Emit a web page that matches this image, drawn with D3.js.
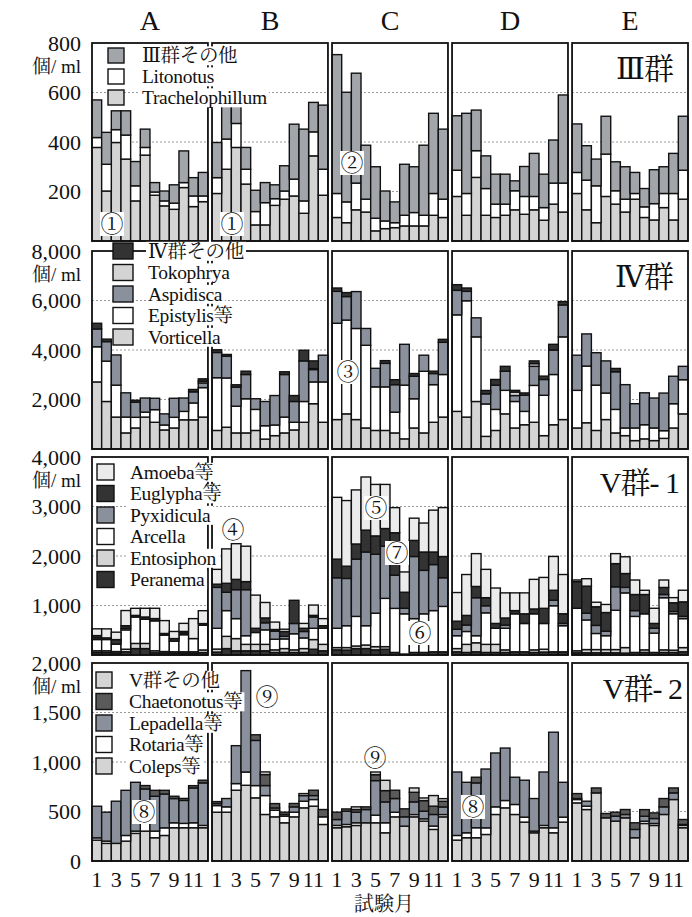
<!DOCTYPE html>
<html>
<head>
<meta charset="utf-8">
<script src="https://cdn.jsdelivr.net/npm/d3@7"></script>
<style>
  body { margin: 0; background: #fff; }
  svg { display: block; }
  text { font-family: "Liberation Serif", "DejaVu Serif", serif, "Noto Serif CJK JP", "Noto Sans CJK JP"; fill: #111; }
</style>
</head>
<body>
<script>
const sites = ['A', 'B', 'C', 'D', 'E'];
const months = d3.range(1, 13);
const monthTicks = [1, 3, 5, 7, 9, 11];

// III群 (個/ml), one row of 12 months per site A..E
const trachelophillum = [
  [378, 202, 398, 331, 162, 347, 185, 142, 128, 216, 139, 159],
  [192, 290, 378, 230, 65, 65, 144, 169, 182, 112, 344, 185],
  [95, 74, 126, 117, 41, 50, 54, 61, 61, 61, 104, 95],
  [180, 104, 257, 104, 95, 104, 126, 108, 126, 84, 149, 117],
  [192, 126, 74, 180, 149, 117, 169, 95, 85, 135, 85, 169]
];
const litonotus = [
  [40, 108, 52, 97, 61, 31, 13, 20, 25, 20, 43, 23],
  [64, 122, 97, 60, 54, 90, 27, 33, 68, 50, 97, 105],
  [97, 84, 108, 52, 51, 31, 20, 43, 54, 43, 88, 74],
  [106, 88, 108, 108, 54, 45, 77, 72, 54, 51, 85, 117],
  [85, 120, 149, 171, 54, 52, 23, 43, 66, 57, 107, 117]
];
const other3 = [
  [152, 129, 76, 98, 98, 74, 38, 40, 74, 128, 74, 95],
  [142, 148, 70, 88, 86, 81, 56, 102, 222, 290, 119, 259],
  [561, 443, 444, 218, 208, 121, 84, 206, 185, 283, 324, 283],
  [220, 324, 164, 132, 121, 121, 40, 121, 174, 135, 174, 356],
  [196, 139, 108, 153, 117, 131, 85, 74, 137, 108, 162, 218]
];

// IV群
const vorticella = [
  [2710, 1920, 1290, 650, 850, 1290, 1080, 770, 850, 1180, 1180, 1290],
  [750, 880, 650, 650, 750, 400, 540, 650, 770, 1080, 1830, 1080],
  [1190, 1420, 1190, 850, 750, 750, 650, 410, 850, 650, 1080, 1290],
  [1520, 1290, 1920, 510, 750, 1420, 850, 980, 1080, 540, 980, 1190],
  [850, 1060, 750, 1190, 650, 540, 340, 410, 340, 430, 850, 1420]
];
const epistylis = [
  [1420, 1630, 1290, 640, 430, 200, 510, 200, 430, 340, 680, 1190],
  [2130, 1990, 1080, 1380, 850, 540, 430, 640, 310, 840, 880, 1630],
  [3890, 3790, 3680, 3340, 1760, 1760, 840, 2170, 1180, 2490, 1520, 1720],
  [3900, 4700, 2610, 1310, 850, 950, 1070, 540, 1490, 1630, 2030, 3340],
  [1520, 2290, 1830, 1070, 950, 310, 510, 570, 510, 310, 980, 1380]
];
const aspidisca = [
  [720, 790, 1220, 980, 610, 570, 460, 450, 770, 540, 450, 190],
  [1020, 880, 770, 980, 430, 980, 1190, 1720, 840, 1640, 500, 1080],
  [1290, 950, 1490, 680, 750, 950, 1110, 1650, 910, 650, 450, 1300],
  [990, 380, 770, 410, 980, 770, 240, 650, 770, 640, 990, 1290],
  [1420, 1300, 1310, 1300, 1520, 1750, 980, 1290, 1210, 1520, 1110, 540]
];
const tokophrya = [
  [0, 0, 0, 0, 0, 0, 0, 0, 0, 0, 0, 70],
  [0, 0, 0, 0, 0, 0, 0, 0, 0, 0, 40, 0],
  [0, 0, 0, 0, 0, 0, 0, 0, 0, 0, 0, 0],
  [0, 0, 0, 0, 0, 0, 140, 0, 110, 0, 0, 0],
  [0, 0, 0, 0, 0, 0, 0, 0, 0, 0, 0, 0]
];
const other4 = [
  [230, 100, 0, 0, 80, 0, 0, 0, 0, 0, 95, 95],
  [110, 70, 95, 135, 0, 0, 0, 110, 240, 430, 310, 0],
  [135, 160, 0, 0, 0, 110, 200, 0, 110, 0, 95, 120],
  [230, 135, 0, 135, 230, 200, 70, 95, 110, 135, 230, 135],
  [0, 0, 0, 0, 135, 0, 0, 0, 0, 0, 0, 0]
];

// V群-1
const peranema = [
  [50, 50, 40, 65, 130, 130, 45, 40, 35, 35, 35, 50],
  [60, 130, 85, 85, 85, 85, 52, 52, 52, 52, 117, 85],
  [104, 100, 130, 130, 104, 117, 52, 20, 52, 52, 65, 65],
  [65, 52, 65, 52, 52, 52, 65, 65, 52, 60, 65, 65],
  [45, 45, 45, 45, 45, 39, 52, 52, 52, 52, 52, 65]
];
const entosiphon = [
  [35, 35, 30, 52, 104, 104, 40, 30, 30, 30, 30, 52],
  [60, 247, 247, 130, 130, 130, 52, 78, 52, 78, 195, 130],
  [46, 50, 52, 72, 65, 52, 0, 0, 0, 0, 0, 0],
  [65, 163, 182, 163, 163, 52, 0, 0, 52, 57, 0, 0],
  [40, 65, 65, 65, 65, 111, 0, 52, 0, 52, 46, 85]
];
const arcella = [
  [228, 228, 150, 390, 533, 488, 605, 332, 215, 345, 267, 500],
  [420, 520, 403, 175, 240, 293, 215, 195, 325, 215, 228, 325],
  [390, 442, 598, 390, 676, 975, 890, 812, 683, 780, 832, 917],
  [260, 260, 143, 637, 325, 436, 767, 572, 728, 520, 930, 527],
  [858, 598, 325, 280, 793, 1105, 728, 728, 390, 1053, 735, 585]
];
const pyxidicula = [
  [33, 0, 0, 33, 0, 0, 0, 0, 0, 33, 0, 0],
  [826, 370, 585, 930, 0, 143, 163, 52, 208, 130, 228, 0],
  [1020, 955, 1157, 1489, 1190, 1053, 670, 111, 1255, 878, 930, 579],
  [130, 130, 767, 143, 0, 65, 0, 0, 0, 0, 111, 46],
  [0, 137, 163, 91, 475, 111, 117, 0, 98, 65, 46, 46]
];
const euglypha = [
  [46, 33, 91, 52, 33, 46, 46, 33, 52, 33, 0, 33],
  [65, 182, 208, 163, 85, 98, 33, 98, 468, 65, 33, 52],
  [377, 247, 306, 442, 371, 358, 858, 325, 325, 371, 254, 429],
  [163, 195, 228, 163, 98, 143, 65, 195, 98, 306, 202, 195],
  [540, 546, 377, 377, 468, 280, 325, 390, 98, 143, 176, 293]
];
const amoeba = [
  [137, 182, 150, 306, 143, 176, 208, 260, 143, 163, 403, 260],
  [299, 695, 721, 715, 670, 312, 150, 46, 0, 98, 208, 143],
  [1248, 1326, 1092, 1073, 1040, 891, 507, 410, 449, 585, 845, 988],
  [579, 826, 663, 572, 715, 507, 358, 423, 598, 624, 683, 793],
  [33, 150, 91, 163, 202, 338, 293, 85, 306, 150, 104, 234]
];

// V群-2
const coleps = [
  [211, 178, 178, 201, 279, 302, 235, 258, 336, 336, 336, 336],
  [493, 493, 715, 765, 638, 470, 446, 386, 446, 537, 554, 369],
  [336, 346, 359, 386, 386, 285, 446, 352, 446, 403, 319, 446],
  [211, 235, 235, 268, 470, 537, 470, 393, 285, 336, 285, 393],
  [587, 520, 688, 436, 403, 436, 235, 379, 359, 470, 621, 336]
];
const rotaria = [
  [23, 23, 0, 57, 23, 84, 67, 77, 50, 44, 50, 23],
  [67, 54, 67, 134, 124, 191, 67, 67, 47, 67, 67, 77],
  [23, 23, 27, 0, 77, 101, 47, 0, 23, 23, 34, 23],
  [47, 50, 101, 67, 77, 74, 101, 50, 17, 23, 50, 50],
  [34, 34, 0, 0, 0, 0, 0, 23, 20, 0, 0, 23]
];
const lepadella = [
  [319, 292, 426, 456, 493, 342, 352, 342, 245, 232, 352, 430],
  [20, 84, 383, 1024, 456, 101, 23, 17, 54, 57, 40, 0],
  [60, 134, 107, 134, 349, 211, 138, 94, 128, 77, 117, 77],
  [641, 510, 453, 594, 544, 530, 275, 373, 329, 540, 966, 352],
  [10, 50, 0, 0, 50, 34, 84, 50, 50, 77, 67, 10]
];
const chaetonotus = [
  [0, 0, 0, 0, 0, 34, 60, 37, 23, 20, 23, 27],
  [20, 0, 0, 0, 57, 111, 44, 23, 34, 0, 54, 74],
  [74, 23, 27, 27, 60, 114, 84, 81, 97, 107, 84, 57],
  [0, 0, 57, 0, 0, 0, 0, 0, 0, 0, 0, 0],
  [50, 0, 50, 44, 40, 50, 67, 67, 57, 84, 50, 50]
];
const other5 = [
  [0, 0, 0, 0, 0, 0, 0, 0, 0, 0, 0, 0],
  [0, 0, 0, 0, 0, 27, 0, 0, 0, 20, 0, 0],
  [0, 0, 27, 0, 27, 104, 0, 0, 44, 27, 107, 27],
  [0, 0, 0, 0, 0, 0, 0, 0, 0, 0, 0, 0],
  [0, 0, 0, 0, 0, 0, 0, 0, 0, 0, 0, 0]
];

const LIGHT = '#d4d4d4', WHITE = '#ffffff', GRAY = '#a2a6aa', BLUE = '#8b919c',
      DARK = '#333333', MID = '#5a5a5a', PALE = '#ebebeb';

const rows = [
  { max: 800, ticks: [200, 400, 600, 800], label: 'Ⅲ群', labelX: 673,
    series: [
      { name: 'Trachelophillum', values: trachelophillum, color: LIGHT },
      { name: 'Litonotus', values: litonotus, color: WHITE },
      { name: 'Ⅲ群その他', values: other3, color: GRAY }
    ],
    legend: { x: 108, y: 48, w: 16, h: 15, step: 21, tx: 142 } },
  { max: 8000, ticks: [2000, 4000, 6000, 8000], label: 'Ⅳ群', labelX: 673,
    series: [
      { name: 'Vorticella', values: vorticella, color: LIGHT },
      { name: 'Epistylis等', values: epistylis, color: WHITE },
      { name: 'Aspidisca', values: aspidisca, color: BLUE },
      { name: 'Tokophrya', values: tokophrya, color: LIGHT },
      { name: 'Ⅳ群その他', values: other4, color: DARK }
    ],
    legend: { x: 113, y: 243, w: 20, h: 16, step: 21.5, tx: 148 } },
  { max: 4000, ticks: [1000, 2000, 3000, 4000], label: 'V群‐ 1', labelX: 679,
    series: [
      { name: 'Peranema', values: peranema, color: DARK },
      { name: 'Entosiphon', values: entosiphon, color: LIGHT },
      { name: 'Arcella', values: arcella, color: WHITE },
      { name: 'Pyxidicula', values: pyxidicula, color: BLUE },
      { name: 'Euglypha等', values: euglypha, color: DARK },
      { name: 'Amoeba等', values: amoeba, color: PALE }
    ],
    legend: { x: 97, y: 464, w: 17, h: 16, step: 21.5, tx: 130 } },
  { max: 2000, ticks: [0, 500, 1000, 1500, 2000], label: 'V群‐ 2', labelX: 682,
    series: [
      { name: 'Coleps等', values: coleps, color: LIGHT },
      { name: 'Rotaria等', values: rotaria, color: WHITE },
      { name: 'Lepadella等', values: lepadella, color: BLUE },
      { name: 'Chaetonotus等', values: chaetonotus, color: MID },
      { name: 'V群その他', values: other5, color: LIGHT }
    ],
    legend: { x: 96, y: 672, w: 16, h: 16, step: 21.5, tx: 129 } }
];

// circled markers: [text, row, cy, cx, boxed]
const markers = [
  ['①', 0, 224, 112, true], ['①', 0, 224, 232, true], ['②', 0, 163, 352, true],
  ['③', 1, 372, 348, true], ['④', 2, 530, 233, false], ['⑤', 2, 508, 376, true],
  ['⑦', 2, 553, 397, true], ['⑥', 2, 633, 420, true], ['⑧', 3, 812, 144, true],
  ['⑨', 3, 697, 267, false], ['⑨', 3, 758, 375, false], ['⑧', 3, 807, 473, true]
];

const rowTops = [43, 251, 457, 663];
const rowH = 198;

const svg = d3.select('body').append('svg').attr('width', 692).attr('height', 917);

const panelX = d3.scaleBand().domain(sites).range([92, 688]).paddingInner(0.034);
const monthX = d3.scaleBand().domain(months).range([0, panelX.bandwidth()]);
const bw = panelX.bandwidth();

// site headers
svg.selectAll('.site').data(sites).join('text')
  .attr('class', 'site')
  .attr('x', d => panelX(d) + bw / 2).attr('y', 30)
  .attr('text-anchor', 'middle').attr('font-size', 28)
  .text(d => d);

const legendLayer = svg.append('g');

rows.forEach((row, ri) => {
  const top = rowTops[ri], bottom = top + rowH;
  const y = d3.scaleLinear().domain([0, row.max]).range([bottom, top]);
  const g = svg.append('g');

  const ax = g.append('g').attr('transform', 'translate(81,0)')
    .call(d3.axisLeft(y).tickValues(row.ticks).tickSize(0).tickPadding(0).tickFormat(d3.format(',')));
  ax.select('.domain').remove();
  ax.attr('font-family', null).attr('font-size', 22);
  ax.selectAll('text').attr('fill', '#111');

  g.append('text').attr('x', 81).attr('y', top + 23).attr('dy', '0.35em')
    .attr('text-anchor', 'end').attr('font-size', 19).text('個/ ml');

  const grid = row.ticks.filter(t => t > 0 && t < row.max);
  const keys = row.series.map(s => s.name);

  sites.forEach((site, si) => {
    const pg = g.append('g').attr('transform', `translate(${panelX(site)},0)`);
    pg.selectAll('.grid').data(grid).join('line').attr('class', 'grid')
      .attr('x1', 0).attr('x2', bw).attr('y1', d => y(d)).attr('y2', d => y(d))
      .attr('stroke', '#9a9a9a').attr('stroke-dasharray', '2,2');

    const table = months.map((m, mi) => {
      const o = { month: m };
      row.series.forEach(s => { o[s.name] = s.values[si][mi]; });
      return o;
    });
    const layers = d3.stack().keys(keys)(table);
    layers.forEach((layer, k) => {
      pg.append('g').selectAll('rect')
        .data(layer.filter(d => d[1] > d[0]))
        .join('rect')
        .attr('x', d => monthX(d.data.month))
        .attr('width', monthX.bandwidth())
        .attr('y', d => y(d[1]))
        .attr('height', d => y(d[0]) - y(d[1]))
        .attr('fill', row.series[k].color)
        .attr('stroke', '#111').attr('stroke-width', 1.4);
    });

    pg.append('rect').attr('x', 0).attr('y', top).attr('width', bw).attr('height', rowH)
      .attr('fill', 'none').attr('stroke', '#111').attr('stroke-width', 1.8);

    if (ri === rows.length - 1) {
      const xa = pg.append('g').attr('transform', `translate(0,${bottom})`)
        .call(d3.axisBottom(monthX).tickValues(monthTicks).tickSize(0).tickPadding(10));
      xa.select('.domain').remove();
      xa.attr('font-family', null).attr('font-size', 22);
      xa.selectAll('text').attr('fill', '#111');
    }
  });

  // legend, top entry first
  const L = row.legend;
  row.series.slice().reverse().forEach((s, i) => {
    const cy = L.y + i * L.step + L.h / 2;
    const item = legendLayer.append('g');
    const t = item.append('text').attr('x', L.tx).attr('y', cy).attr('dy', '0.35em')
      .attr('font-size', 19.5).attr('letter-spacing', -0.3).text(s.name);
    const bb = t.node().getBBox();
    item.insert('rect', 'text').attr('x', bb.x - 2).attr('y', bb.y + 1).attr('width', bb.width + 4)
      .attr('height', bb.height - 2).attr('fill', '#fff');
    item.append('rect').attr('x', L.x).attr('y', cy - L.h / 2).attr('width', L.w).attr('height', L.h)
      .attr('fill', s.color).attr('stroke', '#111').attr('stroke-width', 1.4);
  });

  g.append('text').attr('x', row.labelX).attr('y', top + 36).attr('text-anchor', 'end')
    .attr('font-size', 30).attr('letter-spacing', -1).text(row.label);
});

legendLayer.raise();

// circled markers
markers.forEach(([label, ri, cy, cx, boxed]) => {
  const mg = svg.append('g');
  if (boxed) {
    mg.append('rect').attr('x', cx - 12).attr('y', cy - 12).attr('width', 24).attr('height', 24).attr('fill', '#fff');
  }
  mg.append('text').attr('x', cx).attr('y', cy).attr('dy', '0.36em').attr('text-anchor', 'middle')
    .attr('font-size', 23).text(label);
});

svg.append('text').attr('x', 384).attr('y', 911).attr('text-anchor', 'middle')
  .attr('font-size', 20).text('試験月');
</script>
</body>
</html>
